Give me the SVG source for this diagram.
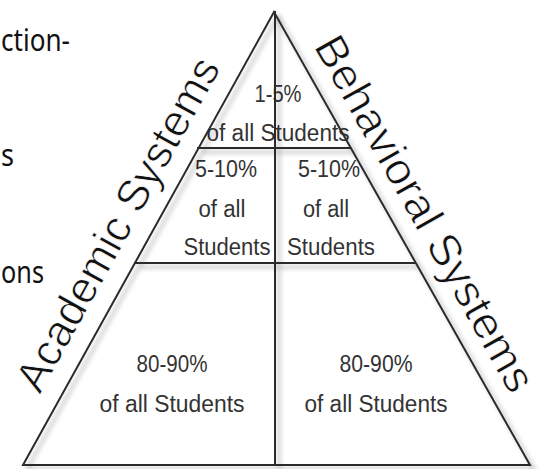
<svg xmlns="http://www.w3.org/2000/svg" width="546" height="469" viewBox="0 0 546 469">
  <style>
    .cut { font-family: "Noto Sans", "Liberation Sans", sans-serif; font-size: 31px; fill: #111; }
    .side { font-family: "Liberation Sans", Arial, sans-serif; font-size: 44px; fill: #111; stroke: #fff; stroke-width: 0.8; }
    .tier { font-family: "Liberation Sans", Arial, sans-serif; font-size: 23px; fill: #333; text-anchor: middle; }
    .edge { stroke: #2b2b2b; stroke-width: 2; fill: none; stroke-linecap: square; }
  </style>
  <defs>
    <filter id="shadow" x="-10%" y="-10%" width="120%" height="120%">
      <feGaussianBlur in="SourceAlpha" stdDeviation="2.5" result="b"/>
      <feOffset in="b" dx="4" dy="4" result="o"/>
      <feComponentTransfer in="o" result="s">
        <feFuncA type="linear" slope="0.35"/>
      </feComponentTransfer>
      <feMerge>
        <feMergeNode in="s"/>
        <feMergeNode in="SourceGraphic"/>
      </feMerge>
    </filter>
  </defs>
  <rect width="546" height="469" fill="#fff"/>

  <g id="cut-text">
    <text class="cut" x="1" y="51" textLength="69" lengthAdjust="spacingAndGlyphs">ction-</text>
    <text class="cut" x="1" y="166" textLength="13" lengthAdjust="spacingAndGlyphs">s</text>
    <text class="cut" x="1" y="283" textLength="43" lengthAdjust="spacingAndGlyphs">ons</text>
  </g>

  <g id="label-academic">
    <text class="side" x="40" y="395" transform="rotate(-61 40 395)">Academic Systems</text>
  </g>
  <g id="label-behavioral">
    <text class="side" x="313" y="46" transform="rotate(60.5 313 46)" textLength="402" lengthAdjust="spacingAndGlyphs">Behavioral Systems</text>
  </g>

  <g id="tier-top">
    <text class="tier" x="278" y="102" textLength="47" lengthAdjust="spacingAndGlyphs">1-5%</text>
    <text class="tier" x="278" y="141" textLength="143" lengthAdjust="spacingAndGlyphs">of all Students</text>
  </g>
  <g id="tier-middle-academic">
    <text class="tier" x="226" y="177" textLength="62" lengthAdjust="spacingAndGlyphs">5-10%</text>
    <text class="tier" x="222" y="217" textLength="47" lengthAdjust="spacingAndGlyphs">of all</text>
    <text class="tier" x="227" y="255" textLength="87" lengthAdjust="spacingAndGlyphs">Students</text>
  </g>
  <g id="tier-middle-behavioral">
    <text class="tier" x="329" y="177" textLength="62" lengthAdjust="spacingAndGlyphs">5-10%</text>
    <text class="tier" x="326" y="217" textLength="46" lengthAdjust="spacingAndGlyphs">of all</text>
    <text class="tier" x="331" y="255" textLength="88" lengthAdjust="spacingAndGlyphs">Students</text>
  </g>
  <g id="tier-bottom-academic">
    <text class="tier" x="172" y="372" textLength="71" lengthAdjust="spacingAndGlyphs">80-90%</text>
    <text class="tier" x="172" y="412" textLength="145" lengthAdjust="spacingAndGlyphs">of all Students</text>
  </g>
  <g id="tier-bottom-behavioral">
    <text class="tier" x="376" y="372" textLength="73" lengthAdjust="spacingAndGlyphs">80-90%</text>
    <text class="tier" x="376" y="412" textLength="143" lengthAdjust="spacingAndGlyphs">of all Students</text>
  </g>

  <g id="connectors" filter="url(#shadow)">
    <polygon class="edge" points="274,12 23,465 530,465"/>
    <line class="edge" x1="275" y1="12" x2="275" y2="465"/>
    <line class="edge" x1="198" y1="148" x2="350" y2="148"/>
    <line class="edge" x1="135" y1="263" x2="415" y2="263"/>
  </g>
</svg>
